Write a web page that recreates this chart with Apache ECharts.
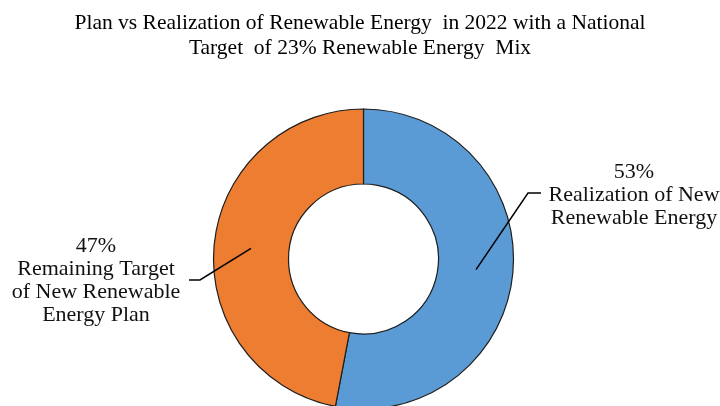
<!DOCTYPE html>
<html><head><meta charset="utf-8">
<script src="https://cdn.jsdelivr.net/npm/echarts@6/dist/echarts.min.js"></script>
<style>html,body{margin:0;padding:0;background:#fff}#c{width:720px;height:406px}</style>
</head><body><div id="c"></div>
<script>
const titleText = 'Plan vs Realization of Renewable Energy  in 2022 with a National\nTarget  of 23% Renewable Energy  Mix';
const categories = ['Realization of New\nRenewable Energy', 'Remaining Target\nof New Renewable\nEnergy Plan'];
const values = [53, 47];
const colors = ['#5B9BD5', '#ED7D31'];

const CX = 363.5, CY = 259, R0 = 75, R1 = 150;
// label placement: [labelX, labelY, elbowX, elbowY, endX]
const labelPos = [
  [634, 195, 528, 193, 541],
  [96, 281, 200, 280, 189]
];
const chart = echarts.init(document.getElementById('c'), null, {renderer: 'canvas'});
chart.setOption({
  animation: false,
  title: {
    text: titleText, left: 'center', top: 6,
    textStyle: {fontFamily: 'Liberation Serif', fontSize: 21.5, fontWeight: 'normal', color: '#000', lineHeight: 25}
  },
  series: [{
    type: 'pie',
    z: 2,
    center: [CX, CY],
    radius: [R0, R1],
    startAngle: 90,
    clockwise: true,
    silent: true,
    data: categories.map((c, i) => ({name: c, value: values[i], itemStyle: {color: colors[i]}})),
    itemStyle: {borderColor: '#1e1e1e', borderWidth: 1.2},
    label: {show: false},
    labelLine: {show: false}
  }, {
    type: 'pie',
    z: 5,
    center: [CX, CY],
    radius: [R0, R1],
    startAngle: 90,
    clockwise: true,
    silent: true,
    data: categories.map((c, i) => ({name: c, value: values[i]})),
    itemStyle: {color: 'rgba(0,0,0,0)', borderWidth: 0},
    label: {
      show: true, position: 'outside', overflow: 'none',
      formatter: p => p.value + '%\n' + p.name,
      fontFamily: 'Liberation Serif', fontSize: 22, color: '#111', lineHeight: 23, align: 'center'
    },
    labelLine: {show: true, length: 20, length2: 10, lineStyle: {color: '#000', width: 1.5}},
    labelLayout: function (params) {
      const i = params.dataIndex;
      const p0 = params.labelLinePoints[0];
      const k = 113 / R1;
      const inner = [CX + (p0[0] - CX) * k, CY + (p0[1] - CY) * k];
      const L = labelPos[i];
      return {
        x: L[0], y: L[1], align: 'center', verticalAlign: 'middle',
        labelLinePoints: [inner, [L[2], L[3]], [L[4], L[3]]]
      };
    }
  }]
});
</script></body></html>
